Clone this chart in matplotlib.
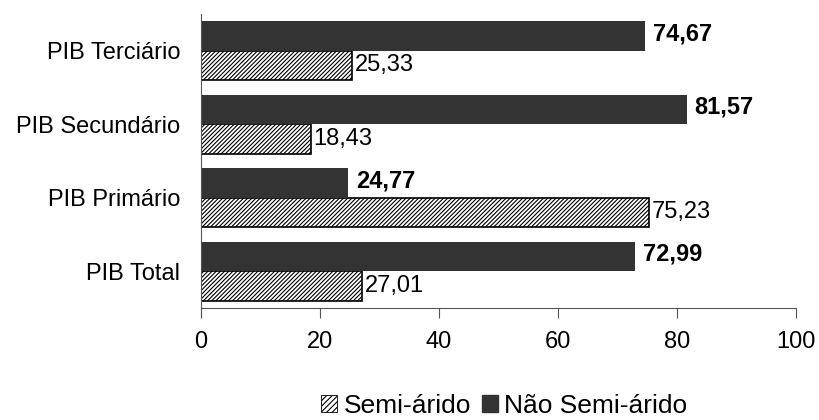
import matplotlib
matplotlib.use("Agg")
import matplotlib.pyplot as plt
import numpy as np
from matplotlib.patches import Patch

plt.rcParams['font.family'] = ['Liberation Sans', 'DejaVu Sans']
plt.rcParams['hatch.linewidth'] = 0.8

categories = ["PIB Total", "PIB Primário", "PIB Secundário", "PIB Terciário"]
semi_arido = [27.01, 75.23, 18.43, 25.33]
nao_semi_arido = [72.99, 24.77, 81.57, 74.67]
x_ticks = [0, 20, 40, 60, 80, 100]

dark = "#333333"
fs = 17

fig = plt.figure(figsize=(8.2, 4.2), dpi=100)
ax = fig.add_axes([0.245, 0.267, 0.726, 0.700])

y = np.arange(len(categories))
h = 0.4

ax.barh(y - h / 2, semi_arido, height=h, color="white", edgecolor="black",
        hatch="////////", linewidth=1.2)
ax.barh(y + h / 2, nao_semi_arido, height=h, color=dark, edgecolor=dark,
        linewidth=0)

def fmt(v):
    return f"{v:.2f}".replace(".", ",")

for yi, v in zip(y, semi_arido):
    ax.text(v + 0.5, yi - h / 2, fmt(v), va="center", ha="left", fontsize=fs)
for yi, v in zip(y, nao_semi_arido):
    ax.text(v + 1.3, yi + h / 2 + 0.03, fmt(v), va="center", ha="left",
            fontsize=fs, fontweight="bold")

ax.set_xlim(0, 100)
ax.set_ylim(-0.5, len(categories) - 0.5)
ax.set_xticks(x_ticks)
ax.set_xticklabels([str(t) for t in x_ticks], fontsize=fs)
ax.set_yticks(y)
ax.set_yticklabels(categories, fontsize=fs)
ax.tick_params(axis="y", length=0, pad=15)
ax.tick_params(axis="x", length=7, width=0.8, color="#555555", pad=10,
               direction="out")

for s in ["top", "right"]:
    ax.spines[s].set_visible(False)
for s in ["left", "bottom"]:
    ax.spines[s].set_color("#555555")
    ax.spines[s].set_linewidth(0.8)
# the vertical axis line runs a little past the horizontal one
ax.spines["left"].set_bounds(-0.62, len(categories) - 0.5)

handles = [
    Patch(facecolor="white", edgecolor="black", hatch="//////", linewidth=0.6,
          label="Semi-árido"),
    Patch(facecolor=dark, edgecolor=dark, label="Não Semi-árido"),
]
fig.legend(handles=handles, loc="center", bbox_to_anchor=(0.615, 0.034),
           ncol=2, frameon=False, fontsize=19, handlelength=0.6,
           handleheight=0.6, handletextpad=0.25, columnspacing=0.4,
           borderpad=0.1)

fig.savefig("out.png", dpi=100)
